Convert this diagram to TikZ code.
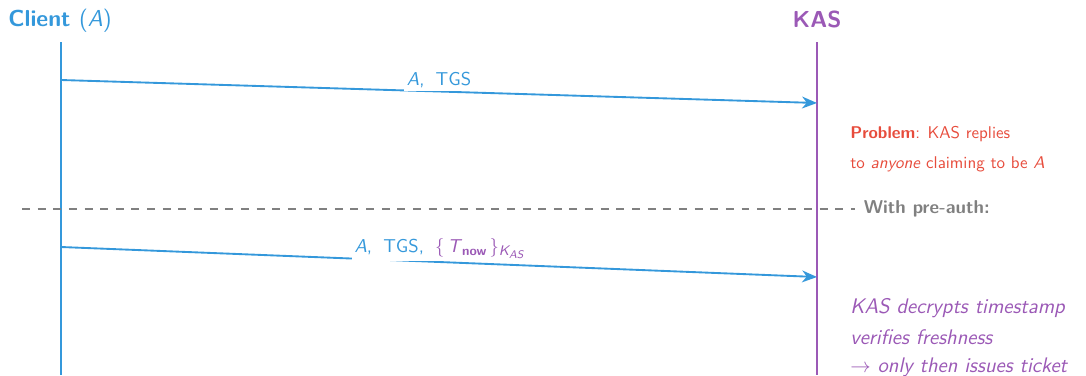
\documentclass[tikz,border=0pt]{standalone}
\usetikzlibrary{arrows.meta}
\definecolor{cblue}{RGB}{52,152,219}
\definecolor{cpurple}{RGB}{155,89,182}
\definecolor{cred}{RGB}{231,76,60}
\definecolor{cgray}{RGB}{128,128,128}
\tikzset{
  lifeline/.style={line width=1.2pt},
  msg/.style={cblue, line width=1.1pt, -{Stealth[length=8.8pt,width=7pt,inset=2.8pt]}},
  msglabel/.style={fill=white, inner sep=1.6pt, font=\sffamily\fontsize{10.95}{13}\selectfont},
  title/.style={font=\sffamily\bfseries\fontsize{13.6}{16}\selectfont, anchor=base, inner sep=0pt},
  note/.style={font=\sffamily\fontsize{10}{12}\selectfont, anchor=base west, inner sep=0pt},
  bignote/.style={font=\sffamily\fontsize{12.4}{14}\selectfont, anchor=base west, inner sep=0pt},
}
\newcommand{\msgsep}{,\hspace{0.6em}}
\begin{document}
\begin{tikzpicture}[x=0.5882pt,y=-0.5882pt]
\useasboundingbox (0,0) rectangle (1086,375);
% titles
\node[title, cblue] (tclient) at (60,26) {Client \textmd{(\textit{A})}};
\node[title, cpurple] (tkas) at (817,27) {KAS};
% lifelines
\coordinate (ctop) at (61,42);
\coordinate (cbot) at (61,375);
\coordinate (ktop) at (817,42);
\coordinate (kbot) at (817,375);
\draw[lifeline, cblue] (ctop) -- (cbot);
\draw[lifeline, cpurple] (ktop) -- (kbot);
% message 1
\coordinate (m1s) at (61,80);
\coordinate (m1e) at (817,103);
\draw[msg] (m1s) -- node[msglabel, above, text=cblue, pos=0.5] (l1) {\textit{A}\msgsep TGS} (m1e);
% problem note
\node[note, text=cred] (p1) at (850,138) {\textbf{Problem}: KAS replies};
\node[note, text=cred] (p2) at (850,168) {to \textit{anyone} claiming to be \textit{A}};
% separator
\node[text=cgray, font=\sffamily\bfseries\fontsize{10.95}{13}\selectfont, anchor=west, inner ysep=0pt, inner xsep=5pt] (wp) at (855,209) {With pre-auth:};
\coordinate (dstart) at (22,209);
\draw[cgray, line width=1.4pt, dash pattern=on 4.7pt off 4.5pt] (dstart) -- (wp.west);
% message 2
\coordinate (m2s) at (61,247);
\coordinate (m2e) at (817,277);
\draw[msg] (m2s) -- node[msglabel, above, text=cblue, pos=0.5] (l2) {\textit{A}\msgsep TGS\msgsep\textcolor{cpurple}{$\{$\,\textit{T}\raisebox{-0.35ex}{\fontsize{7.8}{8}\selectfont\bfseries now}\,$\}$\raisebox{-0.45ex}{\fontsize{8.2}{9}\selectfont\itshape K\raisebox{-0.35ex}{\fontsize{6.5}{7}\selectfont AS}}}} (m2e);
% note 2
\node[bignote, text=cpurple] (n1) at (850,313) {\textit{KAS decrypts timestamp}};
\node[bignote, text=cpurple] (n2) at (850,344) {\textit{verifies freshness}};
\node[bignote, text=cpurple] (n3) at (850,372) {$\rightarrow$ \textit{only then issues ticket}};
\end{tikzpicture}
\end{document}
